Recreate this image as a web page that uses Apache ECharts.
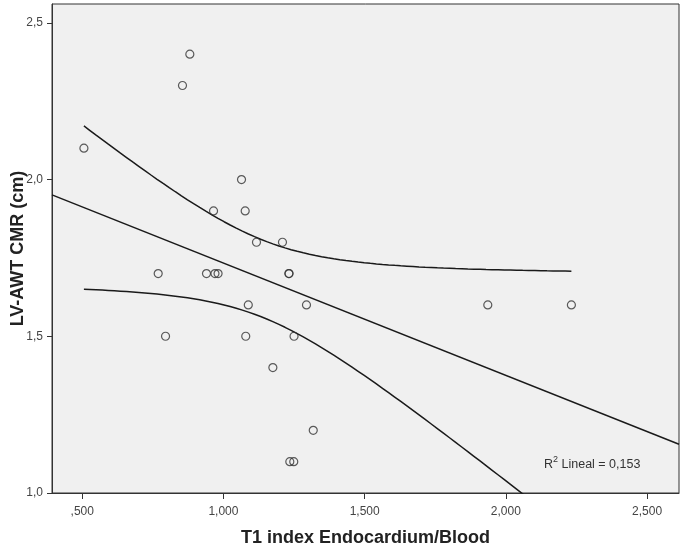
<!DOCTYPE html>
<html>
<head>
<meta charset="utf-8">
<script src="https://cdn.jsdelivr.net/npm/echarts@6/dist/echarts.min.js"></script>
<style>
html,body{margin:0;padding:0;background:#fff;}
#chart{width:685px;height:548px;}
</style>
</head>
<body>
<div id="chart"></div>
<script>
// Data
const xVals = [506, 881, 855, 1064, 965, 1077, 1117, 1209, 769, 940, 970, 981, 1232, 1232, 1088, 1294, 1936, 2232, 795, 1079, 1250, 1175, 1318, 1235, 1249];
const yVals = [2.1, 2.4, 2.3, 2.0, 1.9, 1.9, 1.8, 1.8, 1.7, 1.7, 1.7, 1.7, 1.7, 1.7, 1.6, 1.6, 1.6, 1.6, 1.5, 1.5, 1.5, 1.4, 1.2, 1.1, 1.1];

const xTicks = [500, 1000, 1500, 2000, 2500];
const xTickLabels = [',500', '1,000', '1,500', '2,000', '2,500'];
const yTicks = [1.0, 1.5, 2.0, 2.5];
const yTickLabels = ['1,0', '1,5', '2,0', '2,5'];

const xAxisMin = 393, xAxisMax = 2613;
const yAxisMin = 1.0, yAxisMax = 2.56;

const xName = 'T1 index Endocardium/Blood';
const yName = 'LV-AWT CMR (cm)';
const r2Text = ' Lineal = 0,153';
const tCrit = 2.069; // 95% two-sided, df = n-2 = 23

// Linear fit and 95% CI of the mean
const n = xVals.length;
const mx = xVals.reduce((a, b) => a + b, 0) / n;
const my = yVals.reduce((a, b) => a + b, 0) / n;
let sxx = 0, sxy = 0, syy = 0;
for (let i = 0; i < n; i++) {
  sxx += (xVals[i] - mx) ** 2;
  sxy += (xVals[i] - mx) * (yVals[i] - my);
  syy += (yVals[i] - my) ** 2;
}
const slope = sxy / sxx;
const icpt = my - slope * mx;
const s = Math.sqrt((syy - slope * sxy) / (n - 2));
const fit = x => icpt + slope * x;

const fitLine = [[xAxisMin, fit(xAxisMin)], [xAxisMax, fit(xAxisMax)]];
const xMinD = Math.min(...xVals), xMaxD = Math.max(...xVals);
const upper = [], lower = [];
const steps = 80;
for (let k = 0; k <= steps; k++) {
  const x = xMinD + (xMaxD - xMinD) * k / steps;
  const se = s * Math.sqrt(1 / n + (x - mx) ** 2 / sxx);
  upper.push([x, fit(x) + tCrit * se]);
  lower.push([x, fit(x) - tCrit * se]);
}

const scatterData = xVals.map((x, i) => [x, yVals[i]]);

const chart = echarts.init(document.getElementById('chart'));
const fontFam = '"Liberation Sans", Arial, sans-serif';
const lineStyle = { color: '#1a1a1a', width: 1.5 };

chart.setOption({
  animation: false,
  backgroundColor: '#ffffff',
  grid: {
    left: 52, right: 6, top: 4, bottom: 55,
    outerBoundsMode: 'none', containLabel: false,
    show: true, backgroundColor: '#f0f0f0', borderColor: '#333', borderWidth: 1
  },
  xAxis: {
    type: 'value', min: xAxisMin, max: xAxisMax,
    name: xName, nameLocation: 'middle', nameGap: 36, nameMoveOverlap: false,
    nameTextStyle: { fontFamily: fontFam, fontSize: 18, fontWeight: 'bold', color: '#222' },
    axisLine: { show: true, lineStyle: { color: '#333' } },
    axisTick: { show: true, length: 6, customValues: xTicks, lineStyle: { color: '#333' } },
    axisLabel: {
      customValues: xTicks, margin: 13,
      fontFamily: fontFam, fontSize: 12, color: '#444',
      formatter: v => xTickLabels[xTicks.indexOf(v)] ?? ''
    },
    splitLine: { show: false }
  },
  yAxis: {
    type: 'value', min: yAxisMin, max: yAxisMax,
    name: yName, nameLocation: 'middle', nameGap: 25, nameRotate: 90, nameMoveOverlap: false,
    nameTextStyle: { fontFamily: fontFam, fontSize: 18, fontWeight: 'bold', color: '#222' },
    axisLine: { show: true, lineStyle: { color: '#333' } },
    axisTick: { show: true, length: 5, customValues: yTicks, lineStyle: { color: '#333' } },
    axisLabel: {
      customValues: yTicks, margin: 9,
      fontFamily: fontFam, fontSize: 12, color: '#444',
      formatter: v => yTickLabels[yTicks.findIndex(t => Math.abs(t - v) < 1e-9)] ?? ''
    },
    splitLine: { show: false }
  },
  series: [
    { type: 'line', data: fitLine, showSymbol: false, symbol: 'none', lineStyle: lineStyle, z: 2, clip: true },
    { type: 'line', data: upper, showSymbol: false, symbol: 'none', lineStyle: lineStyle, z: 2, clip: true },
    { type: 'line', data: lower, showSymbol: false, symbol: 'none', lineStyle: lineStyle, z: 2, clip: true },
    {
      type: 'scatter', data: scatterData, symbol: 'circle', symbolSize: 8,
      itemStyle: { color: 'rgba(0,0,0,0)', borderColor: '#333', borderWidth: 1.2 }, z: 3
    }
  ],
  graphic: [
    {
      type: 'text', left: 544, top: 455,
      style: {
        text: '{a|R}{s|2}{a|' + r2Text + '}',
        rich: {
          a: { fontFamily: fontFam, fontSize: 12.5, fill: '#333', verticalAlign: 'bottom', lineHeight: 16 },
          s: { fontFamily: fontFam, fontSize: 9, fill: '#333', verticalAlign: 'top', lineHeight: 16, padding: [0, 0, 6, 0] }
        }
      }
    }
  ]
});
</script>
</body>
</html>
